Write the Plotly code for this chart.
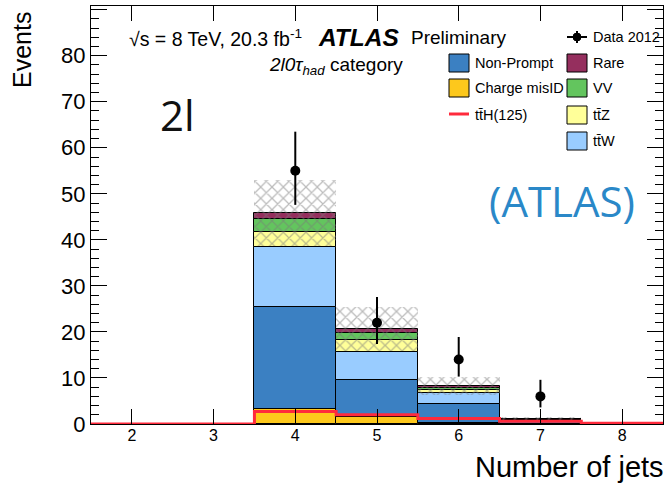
import numpy as np
import plotly.graph_objects as go

# ---------------- data ----------------
bins = [2, 3, 4, 5, 6, 7, 8]
charge_misid = [0, 0, 3.2, 1.6, 0.3, 0.05, 0.0]
non_prompt = [0, 0, 22.3, 8.0, 4.0, 0.35, 0.05]
ttW = [0, 0, 12.9, 6.1, 2.4, 0.45, 0.10]
ttZ = [0, 0, 3.2, 2.6, 0.7, 0.15, 0.03]
VV = [0, 0, 3.0, 1.5, 0.4, 0.05, 0.01]
rare = [0, 0, 1.2, 0.8, 0.5, 0.10, 0.01]
syst_err = [0, 0, 7.1, 4.8, 2.0, 0.4, 0.1]
ttH = [0, 0, 2.7, 2.0, 1.2, 0.6, 0.15]

data_x = [4, 5, 6, 7]
data_y = [55, 22, 14, 6]
data_err_up = [8.5, 5.6, 4.9, 3.6]
data_err_dn = [7.4, 4.6, 3.7, 2.4]

# ---------------- styles ----------------
C_NP = "#3b80c2"
C_CM = "#fdc81c"
C_TTW = "#99ccff"
C_TTZ = "#ffff99"
C_VV = "#63c55e"
C_RARE = "#952f5e"
C_TTH = "#ff2a3c"
FONT = "Liberation Sans"

stack = [
    ("Charge misID", charge_misid, C_CM),
    ("Non-Prompt", non_prompt, C_NP),
    ("ttW", ttW, C_TTW),
    ("ttZ", ttZ, C_TTZ),
    ("VV", VV, C_VV),
    ("Rare", rare, C_RARE),
]

fig = go.Figure()
base = np.zeros(len(bins))
for name, vals, col in stack:
    v = np.array(vals, dtype=float)
    fig.add_trace(go.Bar(
        x=bins, y=v, base=base.copy(), width=1.0, name=name,
        marker=dict(color=col, line=dict(color="black", width=1)),
        showlegend=False,
    ))
    base = base + v
total = base
err = np.array(syst_err)

# uncertainty band (hatched)
fig.add_trace(go.Bar(
    x=bins, y=2 * err, base=total - err, width=1.0,
    marker=dict(color="rgba(0,0,0,0)", line=dict(width=0),
                pattern=dict(shape="x", fgcolor="#7a7a7a", bgcolor="rgba(0,0,0,0)",
                             size=8, solidity=0.3)),
    showlegend=False,
))

# ttH step line
b = np.array(bins, dtype=float)
edges = list(b - 0.5) + [b[-1] + 0.5]
fig.add_trace(go.Scatter(
    x=edges, y=list(ttH) + [ttH[-1]], mode="lines", line_shape="hv",
    line=dict(color=C_TTH, width=3), showlegend=False,
))

# data
fig.add_trace(go.Scatter(
    x=data_x, y=data_y, mode="markers",
    marker=dict(color="black", size=10),
    error_y=dict(type="data", symmetric=False, array=data_err_up,
                 arrayminus=data_err_dn, color="black", thickness=2, width=0),
    showlegend=False,
))

# ---------------- layout ----------------
L, R, T, B = 91, 4, 6, 65
W, H = 667, 489
PW, PH = W - L - R, H - T - B


def px(x):
    return (x - L) / PW


def py(y):
    return (H - B - y) / PH


fig.update_layout(
    width=W, height=H,
    margin=dict(l=L, r=R, t=T, b=B),
    paper_bgcolor="white", plot_bgcolor="white",
    barmode="overlay", bargap=0,
    font=dict(family=FONT, color="black"),
    xaxis=dict(range=[1.5, 8.5], tickvals=bins, ticks="inside", ticklen=15,
               tickcolor="black", showline=True, linecolor="black", linewidth=1,
               mirror="allticks", showgrid=False, zeroline=False,
               ticklabelstandoff=-3,
               tickfont=dict(size=16, family=FONT)),
    yaxis=dict(range=[0, 90.8], dtick=10, ticks="inside", ticklen=16,
               tickcolor="black", showline=True, linecolor="black", linewidth=1,
               mirror="allticks", showgrid=False, zeroline=False,
               tickfont=dict(size=22, family=FONT),
               minor=dict(dtick=2, ticks="inside", ticklen=8, tickcolor="black")),
)

ann = []
shapes = []


def text(x, y, s, size, anchor="left", family=FONT, color="black", angle=0):
    ann.append(dict(x=px(x), y=py(y), xref="paper", yref="paper", text=s,
                    xanchor=anchor, yanchor="middle", textangle=angle,
                    showarrow=False, font=dict(size=size, family=family, color=color)))


# axis titles
text(22, 50, "Events", 25, anchor="center", angle=-90)
text(666, 467, "Number of jets", 29, anchor="right")

# header texts
text(127, 38, "√s = 8 TeV, 20.3 fb<sup>-1</sup>", 19.5)
text(316, 37, "<b><i>ATLAS</i></b>", 24.5)
text(409, 38, "Preliminary", 19)
text(267, 66, "<i>2l0τ<sub>had</sub></i> category", 19)

# overlay texts
text(158, 115, "2l", 42, family="Open Sans", color="#111111")
text(487, 200, "(ATLAS)", 42, family="Open Sans", color="#2a88c8")

# legend
LX2, LX1 = 567, 449
BW = 20
rows = [63, 88, 115, 141]
BH = 18


def box(x0, yc, col):
    shapes.append(dict(type="rect", xref="paper", yref="paper",
                       x0=px(x0), x1=px(x0 + BW), y0=py(yc + BH / 2), y1=py(yc - BH / 2),
                       fillcolor=col, line=dict(color="black", width=1)))


def label(x0, yc, s):
    text(x0, yc, s, 14.5)


# Data 2012 entry
shapes.append(dict(type="line", xref="paper", yref="paper", x0=px(LX2), x1=px(LX2 + BW),
                   y0=py(37), y1=py(37), line=dict(color="black", width=2)))
shapes.append(dict(type="line", xref="paper", yref="paper", x0=px(LX2 + BW / 2), x1=px(LX2 + BW / 2),
                   y0=py(31), y1=py(43), line=dict(color="black", width=2)))
shapes.append(dict(type="circle", xref="paper", yref="paper", x0=px(LX2 + BW / 2 - 4), x1=px(LX2 + BW / 2 + 4),
                   y0=py(33), y1=py(41), fillcolor="black", line=dict(color="black", width=1)))
label(LX2 + BW + 4, 37, "Data 2012")

box(LX2, rows[0], C_RARE); label(LX2 + BW + 4, rows[0], "Rare")
box(LX2, rows[1], C_VV); label(LX2 + BW + 4, rows[1], "VV")
box(LX2, rows[2], C_TTZ); label(LX2 + BW + 4, rows[2], "tt̄Z")
box(LX2, rows[3], C_TTW); label(LX2 + BW + 4, rows[3], "tt̄W")

box(LX1, rows[0], C_NP); label(LX1 + BW + 4, rows[0], "Non-Prompt")
box(LX1, rows[1], C_CM); label(LX1 + BW + 4, rows[1], "Charge misID")
shapes.append(dict(type="line", xref="paper", yref="paper", x0=px(LX1), x1=px(LX1 + BW),
                   y0=py(114), y1=py(114), line=dict(color=C_TTH, width=3)))
label(LX1 + BW + 4, rows[2], "tt̄H(125)")

fig.update_layout(annotations=ann, shapes=shapes)
fig.write_html("out.html")
